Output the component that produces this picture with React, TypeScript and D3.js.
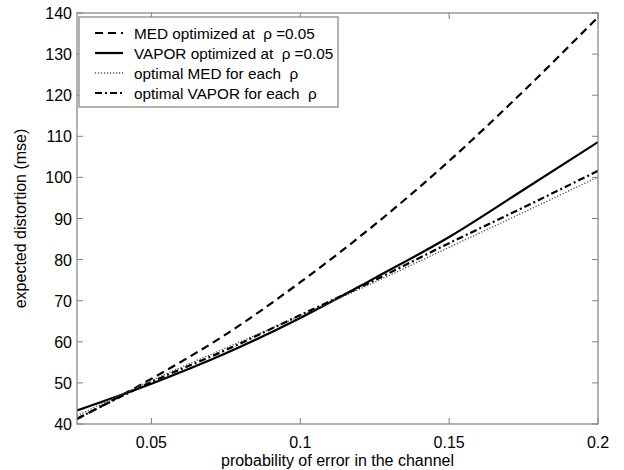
import React from 'react';
import * as d3 from 'd3';

const probs = [0.025, 0.05, 0.075, 0.1, 0.125, 0.15, 0.175, 0.2];
const medFixed = [41.2, 51, 61.8, 74.5, 88.5, 104, 121, 139];
const vaporFixed = [43.3, 49.8, 57.2, 65.8, 75.5, 85.5, 97, 108.6];
const medOptimal = [42, 50.6, 58.5, 66.3, 74.5, 83, 91.5, 100.1];
const vaporOptimal = [41.3, 50.2, 58, 66.5, 75, 84, 92.7, 101.6];

const xTicks = [0.05, 0.1, 0.15, 0.2];
const yTicks = [40, 50, 60, 70, 80, 90, 100, 110, 120, 130, 140];
const legendLabels = [
  'MED optimized at  \u03c1 =0.05',
  'VAPOR optimized at  \u03c1 =0.05',
  'optimal MED for each  \u03c1',
  'optimal VAPOR for each  \u03c1',
];

const App = () => {
  const width = 624, height = 470;
  const left = 77, right = 598, top = 13, bottom = 424;
  const axisColor = '#808080';
  const font = 'Liberation Sans, Arial, Helvetica, sans-serif';

  const x = d3.scaleLinear().domain([0.025, 0.2]).range([left, right]);
  const y = d3.scaleLinear().domain([40, 140]).range([bottom, top]);

  const line = d3.line<number>().x((d, i) => x(probs[i])).y(d => y(d)).curve(d3.curveMonotoneX);

  const series = [
    { values: medFixed, stroke: '#000', width: 2.2, dash: '8,5' },
    { values: vaporFixed, stroke: '#000', width: 2.2, dash: undefined },
    { values: medOptimal, stroke: '#555', width: 1.4, dash: '1.2,1.8' },
    { values: vaporOptimal, stroke: '#000', width: 2.2, dash: '7,3,2,3' },
  ];

  return (
    <svg xmlns="http://www.w3.org/2000/svg" width={width} height={height}
         style={{ position: 'absolute', left: 0, top: 0, background: '#fff' }}>
      <rect x={0} y={0} width={width} height={height} fill="#fff" />
      <defs>
        <clipPath id="plotclip">
          <rect x={left} y={top - 2} width={right - left} height={bottom - top + 2} />
        </clipPath>
      </defs>
      <g clipPath="url(#plotclip)">
        {series.map((s, i) => (
          <path key={i} d={line(s.values) || ''} fill="none" stroke={s.stroke}
                strokeWidth={s.width} strokeDasharray={s.dash} strokeLinejoin="round" />
        ))}
      </g>
      {/* box */}
      <rect x={left} y={top} width={right - left} height={bottom - top} fill="none" stroke={axisColor} strokeWidth={1.2} />
      {xTicks.map((t, i) => (
        <g key={i}>
          <line x1={x(t)} x2={x(t)} y1={bottom} y2={bottom - 6} stroke={axisColor} />
          <line x1={x(t)} x2={x(t)} y1={top} y2={top + 6} stroke={axisColor} />
          <text x={x(t)} y={bottom + 24} textAnchor="middle" fontFamily={font} fontSize={16} fill="#000">{t}</text>
        </g>
      ))}
      {yTicks.map((t, i) => (
        <g key={i}>
          <line x1={left} x2={left + 6} y1={y(t)} y2={y(t)} stroke={axisColor} />
          <line x1={right} x2={right - 6} y1={y(t)} y2={y(t)} stroke={axisColor} />
          <text x={left - 5} y={y(t) + 6} textAnchor="end" fontFamily={font} fontSize={16} fill="#000">{t}</text>
        </g>
      ))}
      <text x={(left + right) / 2} y={466} textAnchor="middle" fontFamily={font} fontSize={16} fill="#000">
        probability of error in the channel
      </text>
      <text transform={`translate(26, ${(top + bottom) / 2}) rotate(-90)`} textAnchor="middle"
            fontFamily={font} fontSize={16} fill="#000">
        expected distortion (mse)
      </text>
      {/* legend */}
      <rect x={79} y={17} width={259} height={90} fill="#fff" stroke={axisColor} strokeWidth={1.2} />
      {series.map((s, i) => {
        const ly = 33 + i * 20;
        return (
          <g key={i}>
            <line x1={95} x2={123} y1={ly} y2={ly} stroke={s.stroke}
                  strokeWidth={s.width} strokeDasharray={s.dash} />
            <text x={134} y={ly + 6} fontFamily={font} fontSize={15.3} fill="#000"
                  style={{ whiteSpace: 'pre' }}>{legendLabels[i]}</text>
          </g>
        );
      })}
    </svg>
  );
};

export default App;
